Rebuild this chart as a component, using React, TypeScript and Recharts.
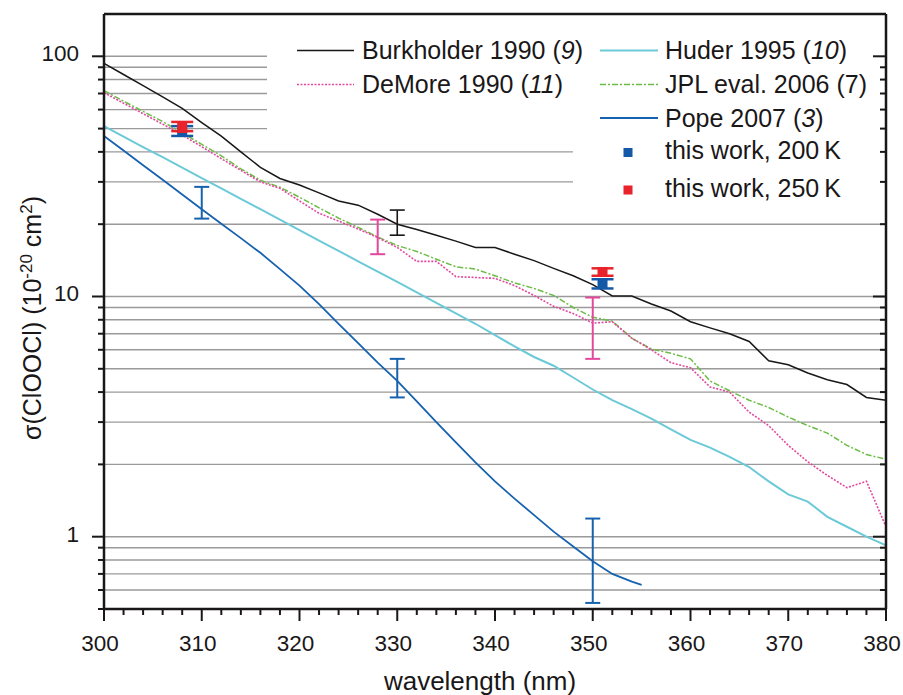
import { ComposedChart, Line, Scatter, ErrorBar, XAxis, YAxis, CartesianGrid, Legend } from "recharts"

const FONT = "'Liberation Sans', Arial, Helvetica, sans-serif"
const ink = "#1a1718"

// wavelength grid (nm) shared by the literature spectra, also the x ticks
const wavelength = [
  300, 302, 304, 306, 308, 310, 312, 314, 316, 318, 320, 322, 324, 326, 328, 330, 332, 334, 336, 338, 340,
  342, 344, 346, 348, 350, 352, 354, 356, 358, 360, 362, 364, 366, 368, 370, 372, 374, 376, 378, 380,
]

// cross sections, 10^-20 cm2
const burkholder = [
  93.5, 84, 75.5, 67.8, 60.7, 53, 46.5, 40, 34.5, 31, 29.1, 27, 25, 24, 22, 20, 19, 18, 17, 16, 16,
  15, 14.1, 13.1, 12.2, 11.2, 10.05, 10.05, 9.3, 8.7, 7.85, 7.4, 7.0, 6.5, 5.4, 5.2, 4.8, 4.5, 4.3, 3.8, 3.7,
]
const demore = [
  70.6, 63.8, 57.7, 52.2, 47, 42, 37.5, 33.5, 30, 28.2, 25, 22.2, 20.6, 19.1, 17.6, 16, 14, 14, 12.1, 12, 11.9,
  11.1, 10.1, 9.1, 8.5, 7.75, 7.85, 6.7, 6.0, 5.3, 5.05, 4.2, 4.0, 3.3, 2.9, 2.4, 2.05, 1.8, 1.6, 1.7, 1.1,
]
const huder = [
  51.2, 46.3, 41.9, 38, 34.4, 31.1, 28.2, 25.5, 23.1, 20.9, 18.9, 17.1, 15.5, 14.0, 12.7, 11.5, 10.4, 9.4, 8.5, 7.7, 6.9,
  6.2, 5.6, 5.15, 4.6, 4.1, 3.7, 3.4, 3.1, 2.8, 2.53, 2.35, 2.15, 1.95, 1.7, 1.5, 1.4, 1.21, 1.1, 1.0, 0.92,
]
const jpl = [
  72, 65, 59, 53.5, 48, 43, 38.5, 34, 30.5, 28.5, 25.9, 23.4, 21.2, 19.4, 17.7, 16.3, 15.4, 14.3, 13.3, 13.0, 12.2,
  11.4, 10.8, 10.1, 9.0, 8.2, 7.9, 6.7, 6.05, 5.8, 5.5, 4.45, 4.05, 3.7, 3.45, 3.15, 2.9, 2.7, 2.4, 2.2, 2.1,
]

const popeWavelength = [
  300, 302, 304, 306, 308, 310, 312, 314, 316, 318, 320, 322, 324, 326, 328, 330, 332, 334, 336, 338, 340,
  342, 344, 346, 348, 350, 352, 354, 355,
]
const pope = [
  46.6, 40.5, 35.2, 30.6, 26.6, 23.1, 20.1, 17.5, 15.2, 13.0, 11.1, 9.3, 7.7, 6.4, 5.3, 4.45, 3.66, 3.0, 2.47, 2.04, 1.7,
  1.44, 1.23, 1.05, 0.91, 0.79, 0.7, 0.65, 0.63,
]

// error bars of the literature data (low / high ends)
const popeBarX = [310, 330, 350]
const popeBarLow = [21.1, 3.8, 0.53]
const popeBarHigh = [28.6, 5.5, 1.19]
const burkBarX = [330]
const burkBarLow = [18.0]
const burkBarHigh = [22.9]
const demoreBarX = [328, 350]
const demoreBarLow = [15.0, 5.5]
const demoreBarHigh = [20.9, 9.9]

// this work
const workX = [308, 351]
const work200 = [48.9, 11.3]
const work200Low = [46.6, 10.8]
const work200High = [51.2, 11.8]
const work250 = [50.3, 12.65]
const work250Low = [48.8, 12.2]
const work250High = [53.3, 13.1]

const yTicks = [0.5, 0.6, 0.7, 0.8, 0.9, 1, 2, 3, 4, 5, 6, 7, 8, 9, 10, 20, 30, 40, 50, 60, 70, 80, 90, 100]
const yLabels = [1, 10, 100]

const colors = {
  burkholder: ink,
  demore: "#e2489d",
  huder: "#6cc9d8",
  jpl: "#6bbd45",
  pope: "#1762ae",
  k200: "#1459a8",
  k250: "#e8232b",
}

const series = (xs: number[], ys: number[]) => xs.map((x, i) => ({ x, y: ys[i] }))
const bars = (xs: number[], lo: number[], hi: number[], mid?: number[]) =>
  xs.map((x, i) => {
    const y = mid ? mid[i] : Math.sqrt(lo[i] * hi[i])
    return { x, y, err: [y - lo[i], hi[i] - y] }
  })

const BottomTick = ({ x, y, payload }: any) => {
  const major = payload.value % 10 === 0
  return (
    <g>
      <line x1={x} x2={x} y1={y} y2={y + (major ? 12 : 6)} stroke={ink} strokeWidth={2} />
      {major && (
        <text x={x - 4} y={y + 42} textAnchor="middle" fontSize={22.5} fill={ink}>
          {payload.value}
        </text>
      )}
    </g>
  )
}

const TopTick = ({ x, y, payload }: any) => {
  const major = payload.value % 10 === 0
  return <line x1={x} x2={x} y1={y} y2={y + (major ? 11 : 6)} stroke={ink} strokeWidth={2} />
}

const LeftTick = ({ x, y, payload }: any) => {
  const major = yLabels.includes(payload.value)
  return (
    <g>
      <line x1={x - (major ? 12 : 6)} x2={x} y1={y} y2={y} stroke={ink} strokeWidth={2} />
      {major && (
        <text x={x - 25} y={y + 5} textAnchor="end" fontSize={22.5} fill={ink}>
          {payload.value}
        </text>
      )}
    </g>
  )
}

const RightTick = ({ x, y, payload }: any) => {
  const major = yLabels.includes(payload.value)
  return <line x1={x - (major ? 13 : 6)} x2={x} y1={y} y2={y} stroke={ink} strokeWidth={2} />
}

// grid lines stop where the legend block sits
const gridLine = (p: any) => {
  const end = p.y1 < 140 ? 267 : p.y1 < 205 ? 573 : p.x2
  return <line key={`g-${p.y1}`} x1={p.x1} x2={end} y1={p.y1} y2={p.y2} stroke="#9a9a9a" strokeWidth={1.4} />
}

const YTitle = () => (
  <text transform="rotate(-90, 41, 318)" x={41} y={318} textAnchor="middle" fontSize={25} fill={ink}>
    σ(ClOOCl) (10
    <tspan dy={-9} fontSize={17}>-20</tspan>
    <tspan dy={9}> cm</tspan>
    <tspan dy={-9} fontSize={17}>2</tspan>
    <tspan dy={9}>)</tspan>
  </text>
)

const XTitle = () => (
  <text x={480} y={690} textAnchor="middle" fontSize={26} fill={ink}>
    wavelength (nm)
  </text>
)

const LegendBox = () => (
  <svg width={903} height={215} style={{ display: "block", fontFamily: FONT }}>
    <line x1={297} x2={354} y1={50.5} y2={50.5} stroke={colors.burkholder} strokeWidth={1.5} />
    <text x={362} y={59} fontSize={25} fill={ink}>
      Burkholder 1990 (<tspan fontStyle="italic">9</tspan>)
    </text>
    <line x1={297} x2={354} y1={84.5} y2={84.5} stroke={colors.demore} strokeWidth={1.5} strokeDasharray="2 1.5" />
    <text x={362} y={93.3} fontSize={25} fill={ink}>
      DeMore 1990 (<tspan fontStyle="italic">11</tspan>)
    </text>

    <line x1={600} x2={658} y1={50.5} y2={50.5} stroke={colors.huder} strokeWidth={2} />
    <text x={665} y={59} fontSize={25} fill={ink}>
      Huder 1995 (<tspan fontStyle="italic">10</tspan>)
    </text>
    <line x1={600} x2={658} y1={84.5} y2={84.5} stroke={colors.jpl} strokeWidth={1.5} strokeDasharray="6 2 2 2" />
    <text x={665} y={93.3} fontSize={25} fill={ink}>
      JPL eval. 2006 (7)
    </text>
    <line x1={600} x2={658} y1={118} y2={118} stroke={colors.pope} strokeWidth={1.8} />
    <text x={665} y={126.7} fontSize={25} fill={ink}>
      Pope 2007 (<tspan fontStyle="italic">3</tspan>)
    </text>
    <rect x={623.5} y={148} width={9} height={9} fill={colors.k200} />
    <text x={665} y={159.3} fontSize={25} fill={ink}>
      this work, 200{"\u2009"}K
    </text>
    <rect x={623.5} y={185.5} width={9} height={9} fill={colors.k250} />
    <text x={665} y={197.3} fontSize={25} fill={ink}>
      this work, 250{"\u2009"}K
    </text>
  </svg>
)

const Square = (color: string) => (p: any) => <rect x={p.cx - 5} y={p.cy - 5} width={10} height={10} fill={color} />
const NoShape = () => <g />

const frame = { stroke: ink, strokeWidth: 2.5 }

export default function App() {
  return (
    <div style={{ width: 903, height: 695 }}>
      <style>{"body{margin:0}"}</style>
      <ComposedChart
        width={903}
        height={695}
        margin={{ top: 14, right: 17, bottom: 0, left: 0 }}
        style={{ fontFamily: FONT }}
      >
        <CartesianGrid xAxisId="b" yAxisId="l" vertical={false} horizontal={gridLine} />

        <Line xAxisId="b" yAxisId="l" data={series(wavelength, huder)} dataKey="y" type="linear"
          stroke={colors.huder} strokeWidth={2} dot={false} isAnimationActive={false} />
        <Line xAxisId="b" yAxisId="l" data={series(wavelength, jpl)} dataKey="y" type="linear"
          stroke={colors.jpl} strokeWidth={1.5} strokeDasharray="6 2 2 2" dot={false} isAnimationActive={false} />
        <Line xAxisId="b" yAxisId="l" data={series(wavelength, demore)} dataKey="y" type="linear"
          stroke={colors.demore} strokeWidth={1.6} strokeDasharray="2 1.5" dot={false} isAnimationActive={false} />
        <Line xAxisId="b" yAxisId="l" data={series(wavelength, burkholder)} dataKey="y" type="linear"
          stroke={colors.burkholder} strokeWidth={1.5} dot={false} isAnimationActive={false} />
        <Line xAxisId="b" yAxisId="l" data={series(popeWavelength, pope)} dataKey="y" type="linear"
          stroke={colors.pope} strokeWidth={1.8} dot={false} isAnimationActive={false} />

        <Scatter xAxisId="b" yAxisId="l" data={bars(popeBarX, popeBarLow, popeBarHigh)} dataKey="y"
          shape={NoShape} isAnimationActive={false}>
          <ErrorBar dataKey="err" direction="y" width={7.5} stroke={colors.pope} strokeWidth={2} isAnimationActive={false} />
        </Scatter>
        <Scatter xAxisId="b" yAxisId="l" data={bars(burkBarX, burkBarLow, burkBarHigh)} dataKey="y"
          shape={NoShape} isAnimationActive={false}>
          <ErrorBar dataKey="err" direction="y" width={7.5} stroke={colors.burkholder} strokeWidth={1.6} isAnimationActive={false} />
        </Scatter>
        <Scatter xAxisId="b" yAxisId="l" data={bars(demoreBarX, demoreBarLow, demoreBarHigh)} dataKey="y"
          shape={NoShape} isAnimationActive={false}>
          <ErrorBar dataKey="err" direction="y" width={7.5} stroke={colors.demore} strokeWidth={2} isAnimationActive={false} />
        </Scatter>
        <Scatter xAxisId="b" yAxisId="l" data={bars(workX, work200Low, work200High, work200)} dataKey="y"
          shape={Square(colors.k200)} isAnimationActive={false}>
          <ErrorBar dataKey="err" direction="y" width={11} stroke={colors.k200} strokeWidth={2.5} isAnimationActive={false} />
        </Scatter>
        <Scatter xAxisId="b" yAxisId="l" data={bars(workX, work250Low, work250High, work250)} dataKey="y"
          shape={Square(colors.k250)} isAnimationActive={false}>
          <ErrorBar dataKey="err" direction="y" width={11} stroke={colors.k250} strokeWidth={2.5} isAnimationActive={false} />
        </Scatter>

        <XAxis
          xAxisId="b"
          dataKey="x"
          type="number"
          domain={[300, 380]}
          ticks={wavelength}
          interval={0}
          height={86}
          tickSize={0}
          tickMargin={0}
          tickLine={false}
          tick={<BottomTick />}
          stroke={ink}
          axisLine={frame}
          label={<XTitle />}
        />
        <XAxis
          xAxisId="t"
          dataKey="x"
          orientation="top"
          mirror
          type="number"
          domain={[300, 380]}
          ticks={wavelength}
          interval={0}
          tickSize={0}
          tickMargin={0}
          tickLine={false}
          tick={<TopTick />}
          stroke={ink}
          axisLine={frame}
        />
        <YAxis
          yAxisId="l"
          type="number"
          scale="log"
          domain={[0.5, 150]}
          allowDataOverflow
          ticks={yTicks}
          interval={0}
          width={104}
          tickSize={0}
          tickMargin={0}
          tickLine={false}
          tick={<LeftTick />}
          stroke={ink}
          axisLine={frame}
          label={<YTitle />}
        />
        <YAxis
          yAxisId="r"
          orientation="right"
          mirror
          type="number"
          scale="log"
          domain={[0.5, 150]}
          allowDataOverflow
          ticks={yTicks}
          interval={0}
          tickSize={0}
          tickMargin={0}
          tickLine={false}
          tick={<RightTick />}
          stroke={ink}
          axisLine={frame}
        />

        <Legend
          content={<LegendBox />}
          layout="horizontal"
          verticalAlign="middle"
          align="center"
          wrapperStyle={{ top: 0, left: 0, width: 903, height: 215, pointerEvents: "none" }}
        />
      </ComposedChart>
    </div>
  )
}
